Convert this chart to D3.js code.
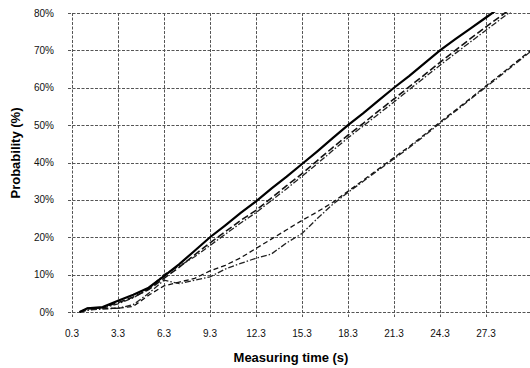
<!DOCTYPE html>
<html><head><meta charset="utf-8">
<script src="https://cdn.jsdelivr.net/npm/d3@7"></script>
<style>
html,body{margin:0;padding:0;background:#fff;}
svg{display:block;}
</style></head>
<body>
<svg id="chart" width="530" height="368"></svg>
<script>
const times = [0.8,1.3,2.3,3.3,4.3,5.3,6.3,7.3,8.3,9.3,10.3,11.3,12.3,13.3,14.3,15.3,16.3,17.3,18.3,19.3,20.3,21.3,22.3,23.3,24.3,25.3,26.3,27.3,28.3,29.3,30.3];
const seriesSolid  = [0,1,1.3,3,4.6,6.5,9.6,12.8,16.4,20,23.2,26.5,29.6,33,36.2,39.6,43,46.5,50,53.2,56.6,60,63.2,66.6,70,73,75.9,78.8,81.7,84.6,87.5];
const seriesDash   = [0,0.8,1.2,2.5,4,6,9,12,15.3,18.5,21.5,24.5,27.2,30.5,33.8,37,40.5,44,47.3,50.5,53.8,57,60.3,63.5,66.8,70,73.2,76.3,79.3,82.3,85.3];
const seriesDashDot= [0,0.5,1,2.2,3.8,6.2,10,12.3,14.8,17.8,20.8,23.8,26.6,29.8,33,36.3,39.7,43.2,46.6,49.8,53,56.2,59.5,62.8,66,69.2,72.3,75.4,78.5,81.6,84.7];
const seriesLowA   = [0,1,1,1,1.5,4.5,7,8,9,11,12.5,14.5,17,19.5,22,24.5,26.8,29.3,32.3,35.3,38.3,41.3,44.3,47.5,50.8,54,57.2,60.5,63.7,67,70.3];
const seriesLowB   = [0,0.5,0.8,1,2,5,8.5,7.6,8.5,9.4,11.5,13,14.4,15.5,18.5,21,25,28.8,32,35,38,41,44,47.2,50.5,53.7,57,60.2,63.4,66.7,70];
const xTicks = [0.3,3.3,6.3,9.3,12.3,15.3,18.3,21.3,24.3,27.3,30.3];
const yTicks = [0,10,20,30,40,50,60,70,80];

const svg = d3.select("#chart");
const x = d3.scaleLinear().domain([0.3,30.3]).range([72,532]);
const y = d3.scaleLinear().domain([0,80]).range([312,13]);
const font = "'Liberation Sans', Arial, sans-serif";

// grid
const grid = svg.append("g").attr("stroke","#555").attr("stroke-width",1).attr("stroke-dasharray","3,1.5");
grid.selectAll("line.h").data(yTicks).join("line")
  .attr("x1",68).attr("x2",530).attr("y1",d=>Math.round(y(d))+0.5).attr("y2",d=>Math.round(y(d))+0.5);
grid.selectAll("line.v").data(xTicks).join("line")
  .attr("y1",13).attr("y2",317).attr("x1",d=>Math.round(x(d))+0.5).attr("x2",d=>Math.round(x(d))+0.5);

// tick labels
svg.append("g").selectAll("text").data(yTicks).join("text")
  .attr("x",54).attr("y",d=>y(d)).attr("dy","0.35em").attr("text-anchor","end")
  .attr("font-family",font).attr("font-size",10).attr("fill","#111")
  .text(d=>d+"%");
svg.append("g").selectAll("text").data(xTicks.filter(d=>d<30)).join("text")
  .attr("x",d=>x(d)).attr("y",333).attr("dy","0.35em").attr("text-anchor","middle")
  .attr("font-family",font).attr("font-size",10).attr("fill","#111")
  .text(d=>d.toFixed(1));

svg.append("text").attr("x",291).attr("y",357).attr("dy","0.35em").attr("text-anchor","middle")
  .attr("font-family",font).attr("font-size",13).attr("font-weight","bold").text("Measuring time (s)");
svg.append("text").attr("transform","translate(15,153) rotate(-90)").attr("dy","0.35em").attr("text-anchor","middle")
  .attr("font-family",font).attr("font-size",13).attr("font-weight","bold").text("Probability (%)");

svg.append("clipPath").attr("id","clip").append("rect").attr("x",72).attr("y",12).attr("width",460).attr("height",302);

const line = d3.line().x((d,i)=>x(times[i])).y(d=>y(d));
const specs = [
  {v:seriesLowB, w:1.3, dash:"6,2,1.5,2", c:"#222"},
  {v:seriesLowA, w:1.3, dash:"5,3", c:"#111"},
  {v:seriesDashDot, w:1.3, dash:"6,2,1.5,2", c:"#222"},
  {v:seriesDash, w:1.6, dash:"7,3", c:"#111"},
  {v:seriesSolid, w:2.2, dash:null, c:"#000"}
];
const lg = svg.append("g").attr("clip-path","url(#clip)");
specs.forEach(s=>{
  lg.append("path").attr("d",line(s.v)).attr("fill","none").attr("stroke",s.c)
    .attr("stroke-width",s.w).attr("stroke-dasharray",s.dash);
});
</script>
</body></html>
